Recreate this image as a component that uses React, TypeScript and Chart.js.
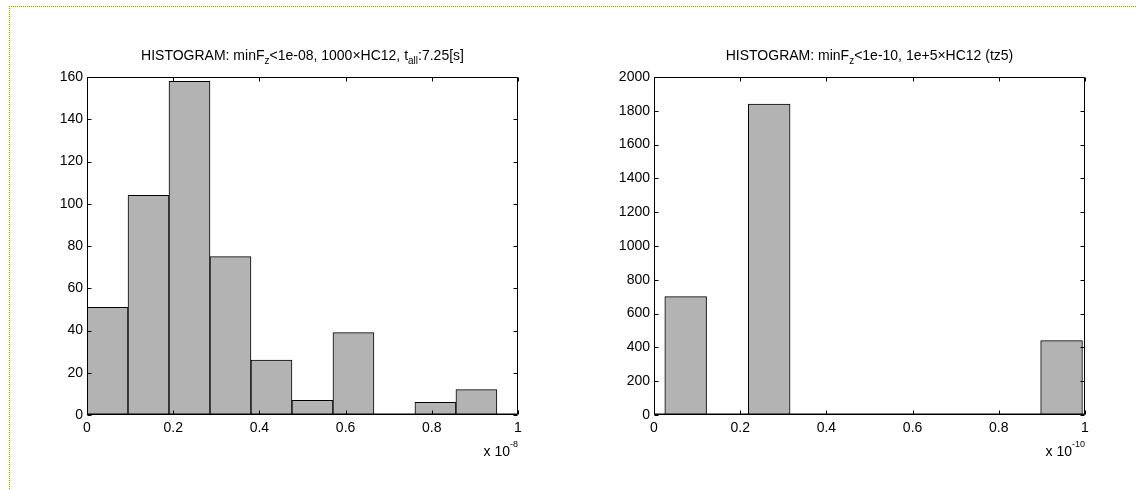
import React, { useEffect, useRef } from "react";
import { Chart, registerables } from "chart.js";

Chart.register(...registerables);

// ---------- data ----------
const leftBinCenters = [0.0476, 0.1427, 0.2378, 0.3329, 0.428, 0.5231, 0.6182, 0.7133, 0.8084, 0.9035];
const leftCounts = [51, 104, 158, 75, 26, 7, 39, 0, 6, 12];
const leftYMax = 160;
const leftYStep = 20;
const leftTitle = [
  { t: "HISTOGRAM: minF" },
  { t: "z", sub: true },
  { t: "<1e-08, 1000×HC12, t" },
  { t: "all", sub: true },
  { t: ":7.25[s]" },
];
const leftExponent = "-8";

const rightBinCenters = [0.0735, 0.1704, 0.2673, 0.3642, 0.4611, 0.558, 0.6549, 0.7518, 0.8487, 0.9456];
const rightCounts = [700, 0, 1840, 0, 0, 0, 0, 0, 0, 440];
const rightYMax = 2000;
const rightYStep = 200;
const rightTitle = [
  { t: "HISTOGRAM: minF" },
  { t: "z", sub: true },
  { t: "<1e-10, 1e+5×HC12 (tz5)" },
];
const rightExponent = "-10";

const xTickStep = 0.2;
const xMin = 0;
const xMax = 1;

const FONT = "'Liberation Sans', Arial, Helvetica, sans-serif";

type Seg = { t: string; sub?: boolean };

function HistChart(props: {
  centers: number[];
  counts: number[];
  yMax: number;
  yStep: number;
  title: Seg[];
  exponent: string;
  pageLeft: number;
  padRight: number;
  yWidth: number;
}) {
  const ref = useRef<HTMLCanvasElement | null>(null);
  useEffect(() => {
    if (!ref.current) return;
    const p = props;
    const boxPlugin = {
      id: "matlabBox",
      afterDraw(chart: any) {
        const ctx = chart.ctx as CanvasRenderingContext2D;
        const { left, right, top, bottom } = chart.chartArea;
        const xs = chart.scales.x;
        const ys = chart.scales.y;
        const L = Math.round(left) + 0.5;
        const R = Math.round(right) - 0.5;
        const T = Math.round(top) + 0.5;
        const B = Math.round(bottom) - 0.5;
        ctx.save();
        ctx.strokeStyle = "#000";
        ctx.lineWidth = 1;
        ctx.beginPath();
        ctx.rect(L, T, R - L, B - T);
        ctx.stroke();
        // slightly heavier baseline like the reference
        ctx.beginPath();
        ctx.moveTo(L, B - 1);
        ctx.lineTo(R, B - 1);
        ctx.globalAlpha = 0.5;
        ctx.stroke();
        ctx.globalAlpha = 1;
        const tl = 4;
        ctx.beginPath();
        xs.ticks.forEach((tk: any) => {
          const px = Math.round(xs.getPixelForValue(tk.value)) + 0.5;
          ctx.moveTo(px, B);
          ctx.lineTo(px, B - tl);
          ctx.moveTo(px, T);
          ctx.lineTo(px, T + tl);
        });
        ys.ticks.forEach((tk: any) => {
          const py = Math.round(ys.getPixelForValue(tk.value)) + 0.5;
          ctx.moveTo(L, py);
          ctx.lineTo(L + tl, py);
          ctx.moveTo(R, py);
          ctx.lineTo(R - tl, py);
        });
        ctx.stroke();

        // title with subscripts
        const mainFont = `14px ${FONT}`;
        const subFont = `10px ${FONT}`;
        let total = 0;
        const widths = p.title.map((s) => {
          ctx.font = s.sub ? subFont : mainFont;
          const w = ctx.measureText(s.t).width;
          total += w;
          return w;
        });
        let x = (left + right) / 2 - total / 2;
        const baseY = 60;
        ctx.fillStyle = "#000";
        ctx.textBaseline = "alphabetic";
        ctx.textAlign = "left";
        p.title.forEach((s, i) => {
          ctx.font = s.sub ? subFont : mainFont;
          ctx.fillText(s.t, x, s.sub ? baseY + 4 : baseY);
          x += widths[i];
        });

        // exponent label "x 10^-n"
        ctx.font = mainFont;
        const base = "x 10";
        const wb = ctx.measureText(base).width;
        ctx.font = `9px ${FONT}`;
        const we = ctx.measureText(p.exponent).width;
        const sx = right - wb - we;
        ctx.font = mainFont;
        ctx.fillText(base, sx, 456);
        ctx.font = `9px ${FONT}`;
        ctx.fillText(p.exponent, sx + wb, 447);
        ctx.restore();
      },
    };

    const chart = new Chart(ref.current, {
      type: "bar",
      data: {
        datasets: [
          {
            data: p.centers.map((c, i) => ({ x: c, y: p.counts[i] })),
            backgroundColor: "rgb(179,179,179)",
            borderColor: "#000",
            borderWidth: 1,
            barPercentage: 1,
            categoryPercentage: 1,
          },
        ],
      },
      options: {
        animation: false,
        responsive: false,
        maintainAspectRatio: false,
        layout: { padding: { left: 0, right: p.padRight, top: 77, bottom: 45 } },
        plugins: {
          legend: { display: false },
          tooltip: { enabled: false },
          title: { display: false },
        },
        scales: {
          x: {
            type: "linear",
            min: xMin,
            max: xMax,
            offset: false,
            grid: { display: false, drawTicks: false },
            border: { display: false },
            ticks: {
              stepSize: xTickStep,
              color: "#000",
              padding: 5,
              maxRotation: 0,
              autoSkip: false,
              font: { family: FONT, size: 14 },
              callback: (v: any) => String(Math.round(Number(v) * 10) / 10),
            },
            afterFit: (s: any) => {
              s.height = 30;
            },
          },
          y: {
            min: 0,
            max: p.yMax,
            grid: { display: false, drawTicks: false },
            border: { display: false },
            ticks: {
              stepSize: p.yStep,
              color: "#000",
              padding: 4,
              font: { family: FONT, size: 14 },
              callback: (v: any) => String(v),
            },
            afterFit: (s: any) => {
              s.width = p.yWidth;
            },
          },
        },
      },
      plugins: [boxPlugin],
    } as any);
    return () => chart.destroy();
  }, []);
  return (
    <canvas
      ref={ref}
      width={568}
      height={490}
      style={{ position: "absolute", left: props.pageLeft, top: 0, width: 568, height: 490 }}
    />
  );
}

export default function App() {
  return (
    <div style={{ position: "absolute", left: 0, top: 0, width: 1136, height: 490, overflow: "hidden", background: "#fff" }}>
      <div
        style={{
          position: "absolute",
          left: 9,
          top: 6,
          width: 1200,
          height: 600,
          borderTop: "1px dotted rgb(150,150,0)",
          borderLeft: "1px dotted rgb(150,150,0)",
        }}
      />
      <HistChart
        centers={leftBinCenters}
        counts={leftCounts}
        yMax={leftYMax}
        yStep={leftYStep}
        title={leftTitle}
        exponent={leftExponent}
        pageLeft={0}
        padRight={50}
        yWidth={87}
      />
      <HistChart
        centers={rightBinCenters}
        counts={rightCounts}
        yMax={rightYMax}
        yStep={rightYStep}
        title={rightTitle}
        exponent={rightExponent}
        pageLeft={568}
        padRight={51}
        yWidth={86}
      />
    </div>
  );
}
